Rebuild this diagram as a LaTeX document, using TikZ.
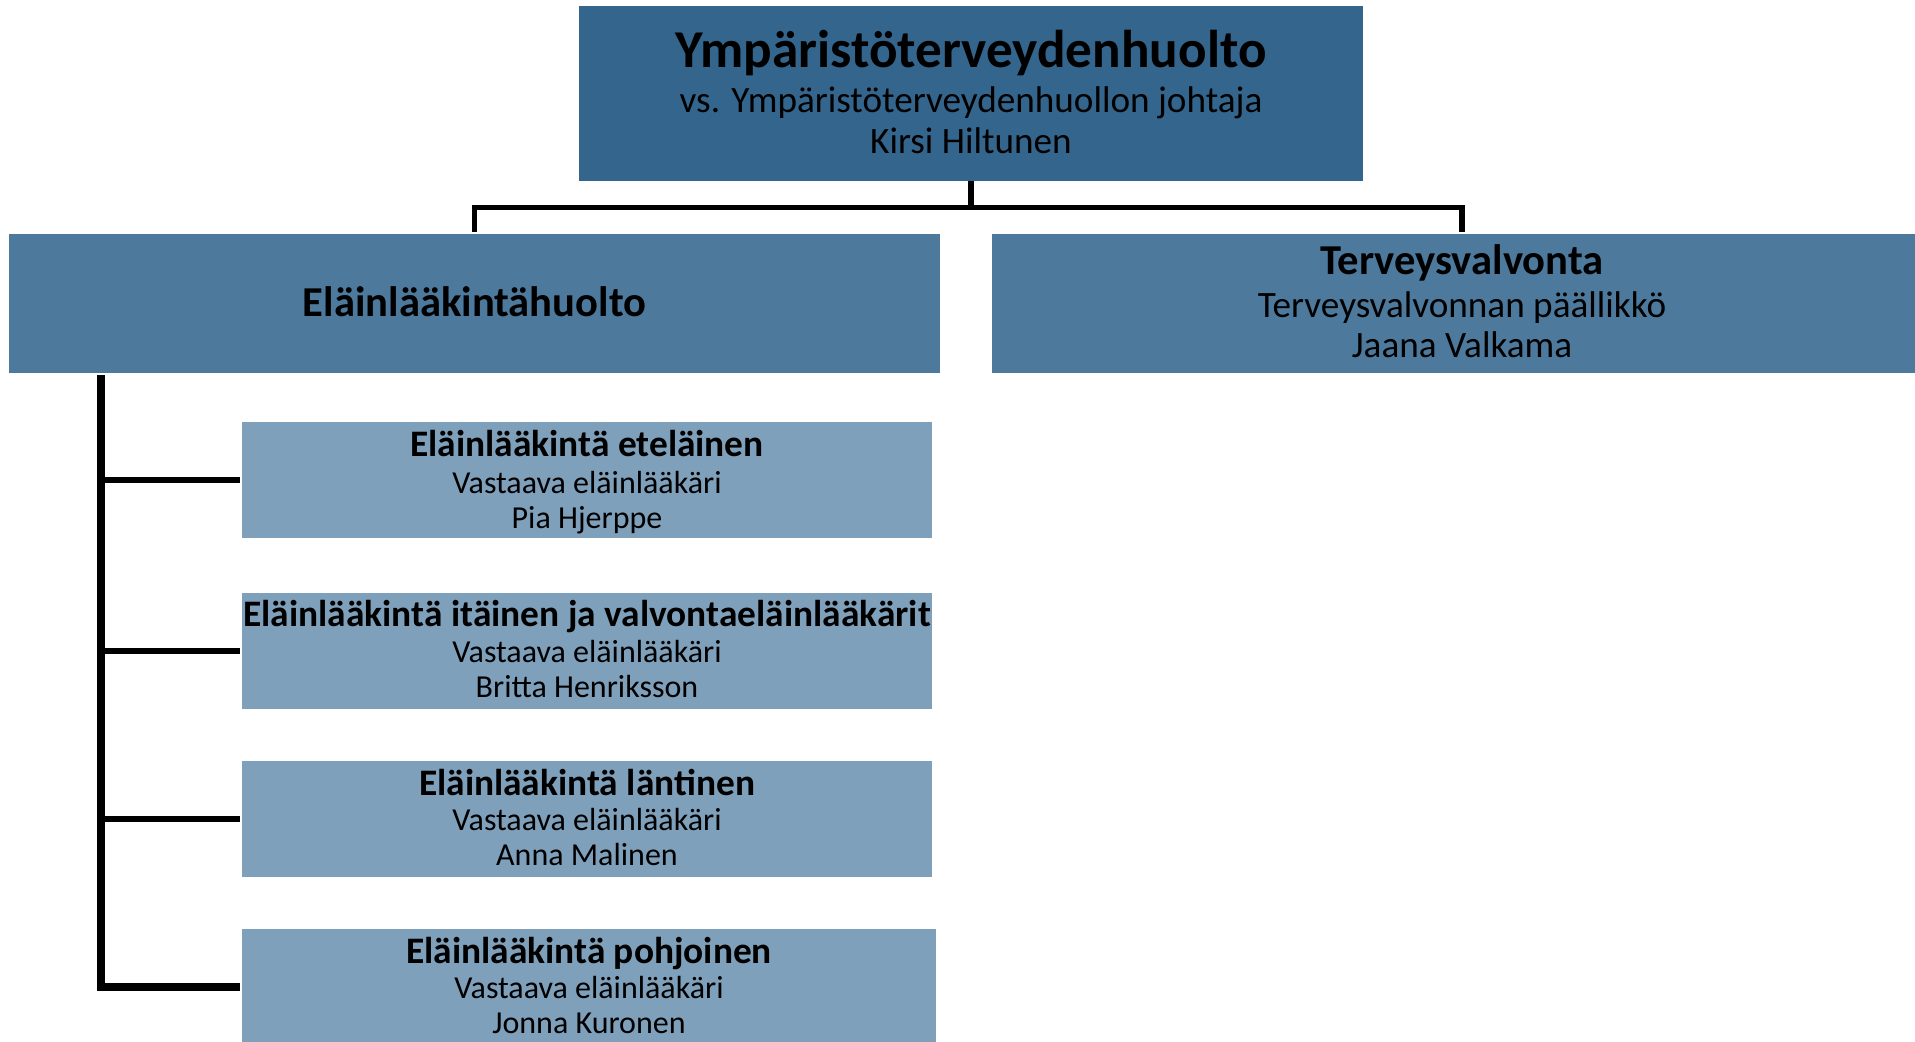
\documentclass[tikz,border=0pt]{standalone}
\usepackage{fontspec}
\setmainfont{Carlito}
\definecolor{topc}{RGB}{52,101,141}
\definecolor{midc}{RGB}{77,121,157}
\definecolor{subc}{RGB}{127,160,187}
\tikzset{
  boxbase/.style={draw=none, inner sep=0pt, rectangle},
  topbox/.style={boxbase, fill=topc},
  midbox/.style={boxbase, fill=midc},
  subbox/.style={boxbase, fill=subc, minimum width=345pt, minimum height=58pt},
  conn/.style={line width=2.85pt, black, line join=miter},
  spinec/.style={line width=4.1pt, black, line join=miter},
  branchc/.style={line width=3pt, black},
  txt/.style={anchor=base, inner sep=0pt, text=black},
  tbig/.style={txt, font=\fontsize{26.6pt}{30pt}\selectfont\bfseries},
  tmed/.style={txt, font=\fontsize{18.6pt}{22pt}\selectfont},
  mbig/.style={txt, font=\fontsize{21.3pt}{25pt}\selectfont\bfseries},
  mmed/.style={txt, font=\fontsize{18.6pt}{22pt}\selectfont},
  sbig/.style={txt, font=\fontsize{18.7pt}{22pt}\selectfont\bfseries},
  smed/.style={txt, font=\fontsize{16pt}{19pt}\selectfont},
}
\begin{document}
\begin{tikzpicture}[x=0.5pt, y=-0.5pt]
\useasboundingbox (0,0) rectangle (1915,1041);
\begin{scope}
\clip (0,0) rectangle (1915,1041);
% boxes
\node[topbox, minimum width=392pt, minimum height=87.5pt] (top) at (971,93.5) {};
\node[midbox, minimum width=465.5pt, minimum height=69.5pt] (vet) at (474.5,303.5) {};
\node[midbox, minimum width=470pt, minimum height=69.5pt] (ter) at (1462,303.5) {};
\node[subbox] (s1) at (587,480) {};
\node[subbox] (s2) at (587,650.5) {};
\node[subbox] (s3) at (587,819) {};
\node[subbox, minimum width=347pt] (s4) at (589,987) {};
% connectors
\draw[conn] (top.south) -- ++(0,26) coordinate (hub);
\draw[conn] (hub) -| ([yshift=1pt]vet.north);
\draw[conn] (hub) -| ([yshift=1pt]ter.north);
\coordinate (spine) at (101,375);
\draw[spinec] (spine) |- ([xshift=-1pt]s4.west);
\draw[branchc] (spine |- s1.west) -- ([xshift=-1pt]s1.west);
\draw[branchc] (spine |- s2.west) -- ([xshift=-1pt]s2.west);
\draw[branchc] (spine |- s3.west) -- ([xshift=-1pt]s3.west);
% texts
\node[tbig] (t1) at (971,67) {Ympäristöterveydenhuolto};
\node[tmed] (t2) at (971,112) {vs. Ympäristöterveydenhuollon johtaja};
\node[tmed] (t3) at (971,153) {Kirsi Hiltunen};
\node[mbig] (v1) at (474.5,316) {Eläinlääkintähuolto};
\node[mbig] (r1) at (1462,274) {Terveysvalvonta};
\node[mmed] (r2) at (1462,317) {Terveysvalvonnan päällikkö};
\node[mmed] (r3) at (1462,357) {Jaana Valkama};
\node[sbig] (a1) at (587,456) {Eläinlääkintä eteläinen};
\node[smed] (a2) at (587,493) {Vastaava eläinlääkäri};
\node[smed] (a3) at (587,528) {Pia Hjerppe};
\node[sbig] (b1) at (587,626) {Eläinlääkintä itäinen ja valvontaeläinlääkärit};
\node[smed] (b2) at (587,662) {Vastaava eläinlääkäri};
\node[smed] (b3) at (587,697) {Britta Henriksson};
\node[sbig] (c1) at (587,795) {Eläinlääkintä läntinen};
\node[smed] (c2) at (587,830) {Vastaava eläinlääkäri};
\node[smed] (c3) at (587,865) {Anna Malinen};
\node[sbig] (d1) at (589,963) {Eläinlääkintä pohjoinen};
\node[smed] (d2) at (589,998) {Vastaava eläinlääkäri};
\node[smed] (d3) at (589,1033) {Jonna Kuronen};
\end{scope}
\end{tikzpicture}
\end{document}
